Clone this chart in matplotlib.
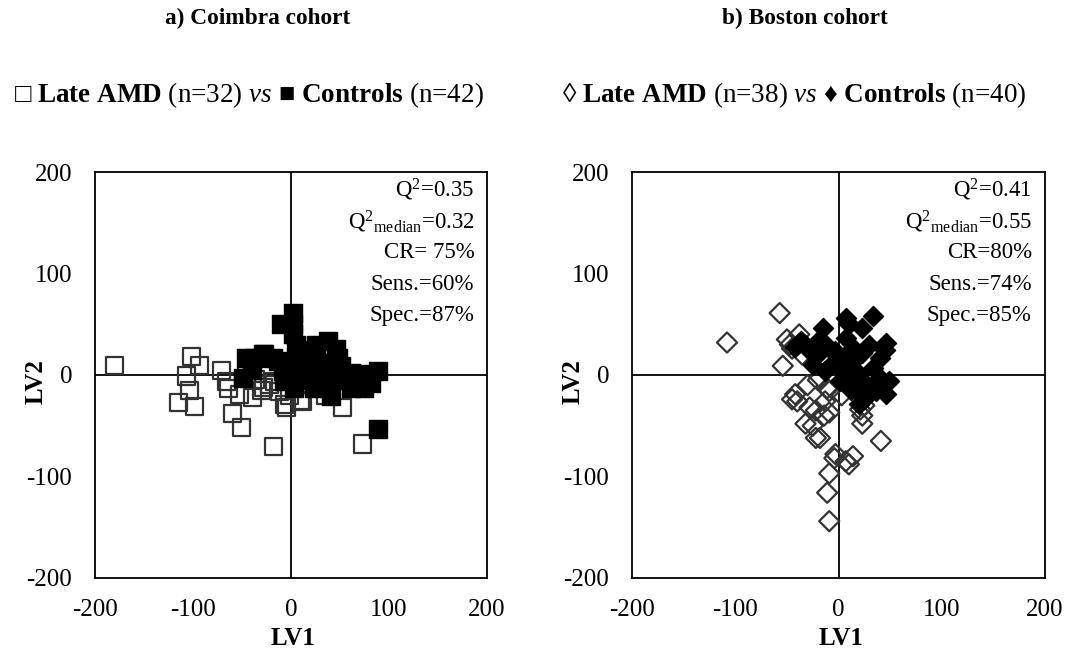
import matplotlib
matplotlib.use("Agg")
import matplotlib.pyplot as plt

plt.rcParams['font.family'] = ['Liberation Serif', 'DejaVu Serif']
plt.rcParams['mathtext.fontset'] = 'custom'
plt.rcParams['mathtext.rm'] = 'Liberation Serif'
plt.rcParams['mathtext.it'] = 'Liberation Serif:italic'
plt.rcParams['mathtext.bf'] = 'Liberation Serif:bold'
plt.rcParams['axes.unicode_minus'] = False

# a) Coimbra cohort
coim_amd_x = [-180, -102, -93, -107, -104, -115, -98, -71, -66, -64, -53, -39, -60, -51,
              -18, -36, -22, -7, -17, -5, 12, 53, 73, -30, 10, -28, 20, 35, -45, -2, 30, -12]
coim_amd_y = [9, 18, 9, -1, -15, -27, -31, 4, -6, -13, -19, -22, -38, -52,
              -70, -4, -9, -29, -6, -32, -26, -32, -68, -15, -25, -12, -5, -20, 0, -20, 5, -16]
coim_ctl_x = [2, -10, 2, 2, 5, 38, 46, 22, 48, -28, -38, -13, -2, 17, 31, 51, 61, 71, 89, 82,
              74, 39, 41, 23, 3, -7, 61, 89, 10, -46, -29, -49, -18, -8, 20, 30, 45, 55, 15, 25,
              -40, 8]
coim_ctl_y = [61, 50, 50, 40, 30, 33, 26, 21, 17, 21, 17, 14, 11, 9, 12, 9, 2, 1, 4, -8,
              -13, -13, -21, -13, -13, -6, -13, -53, 1, 17, 21, -3, 17, 4, -5, 0, 5, -5, 25, 30,
              5, 20]

# b) Boston cohort
bost_amd_x = [-57, -108, -38, -47, -45, -54, -42, -45, -40, -28, -22, -14, -25, -18, -9, -13,
              -3, 7, -9, -11, -9, 41, 23, 23, 21, -32, -22, -9, -11, 14, -4, 10, -35, -50,
              -20, 25, -30, 3]
bost_amd_y = [61, 32, 40, 30, 26, 9, -19, -24, -26, -32, -35, -40, -50, -62, -16, -26,
              -78, -85, -97, -116, -144, -65, -48, -40, -34, -48, -62, -37, -13, -80, -82, -88, 20, 35,
              -5, -30, -10, -20]
bost_ctl_x = [-15, 7, 33, 23, -32, -22, -8, -6, -13, 7, 14, 4, 46, 40, 23, 33, 20, 7, 40, 49,
              46, 26, 20, 36, 17, 4, 14, -30, 1, -3, -38, -42, -36, 10, 30, 45, 28, -25, -18, 12]
bost_ctl_y = [46, 56, 58, 46, 30, 19, 26, 11, 4, 36, 27, 17, 32, 17, 22, 7, 1, -4, -3, -6,
              -19, -23, -29, -16, -13, 4, 14, 26, -6, 24, 32, 28, 33, 50, 30, 25, -10, 10, 35, -15]

stats_a = ["Q$^2$=0.35", "Q$^2{}_{\\mathrm{median}}$=0.32", "CR= 75%", "Sens.=60%", "Spec.=87%"]
stats_b = ["Q$^2$=0.41", "Q$^2{}_{\\mathrm{median}}$=0.55", "CR=80%", "Sens.=74%", "Spec.=85%"]
ticks = [-200, -100, 0, 100, 200]

fig = plt.figure(figsize=(10.76, 6.53), dpi=100)
ax1 = fig.add_axes([0.0883, 0.1149, 0.3643, 0.6217])
ax2 = fig.add_axes([0.5874, 0.1149, 0.3838, 0.6217])

ax1.scatter(coim_amd_x, coim_amd_y, marker='s', s=150, facecolors='none',
            edgecolors='#333333', linewidths=1.6, zorder=3)
ax1.scatter(coim_ctl_x, coim_ctl_y, marker='s', s=150, c='black', zorder=4)
ax2.scatter(bost_amd_x, bost_amd_y, marker='D', s=105, facecolors='none',
            edgecolors='#333333', linewidths=1.6, zorder=3)
ax2.scatter(bost_ctl_x, bost_ctl_y, marker='D', s=105, c='black', zorder=4)

for ax, stats, ylx in [(ax1, stats_a, -0.122), (ax2, stats_b, -0.114)]:
    ax.set_xlim(-200, 200)
    ax.set_ylim(-200, 200)
    ax.set_xticks(ticks)
    ax.set_yticks(ticks)
    ax.tick_params(length=0, labelsize=18)
    ax.tick_params(axis='x', pad=15)
    ax.tick_params(axis='y', pad=16.5)
    ax.axhline(0, color='black', lw=1.3, zorder=2)
    ax.axvline(0, color='black', lw=1.3, zorder=2)
    for sp in ax.spines.values():
        sp.set_linewidth(1.3)
    ax.set_xlabel("LV1", fontsize=18, fontweight='bold')
    ax.set_ylabel("LV2", fontsize=18, fontweight='bold')
    ax.xaxis.set_label_coords(0.505, -0.122)
    ax.yaxis.set_label_coords(ylx, 0.483)
    for i, s in enumerate(stats):
        ax.text(0.968, 0.955 - i * 0.077, s, transform=ax.transAxes, ha='right', va='center',
                fontsize=16.5)

fig.text(258 / 1076, 1 - 18 / 653, "a) Coimbra cohort", ha='center', va='center',
         fontsize=16.8, fontweight='bold')
fig.text(805 / 1076, 1 - 18 / 653, "b) Boston cohort", ha='center', va='center',
         fontsize=16.8, fontweight='bold')
fig.text(14 / 1076, 1 - 95 / 653,
         "□ $\\mathbf{Late\\ AMD}$ (n=32) $\\mathit{vs}$ ■ $\\mathbf{Controls}$ (n=42)",
         ha='left', va='center', fontsize=19.5)
fig.text(562 / 1076, 1 - 95 / 653,
         "◊ $\\mathbf{Late\\ AMD}$ (n=38) $\\mathit{vs}$ ♦ $\\mathbf{Controls}$ (n=40)",
         ha='left', va='center', fontsize=19.5)

fig.savefig("out.png", dpi=100)
